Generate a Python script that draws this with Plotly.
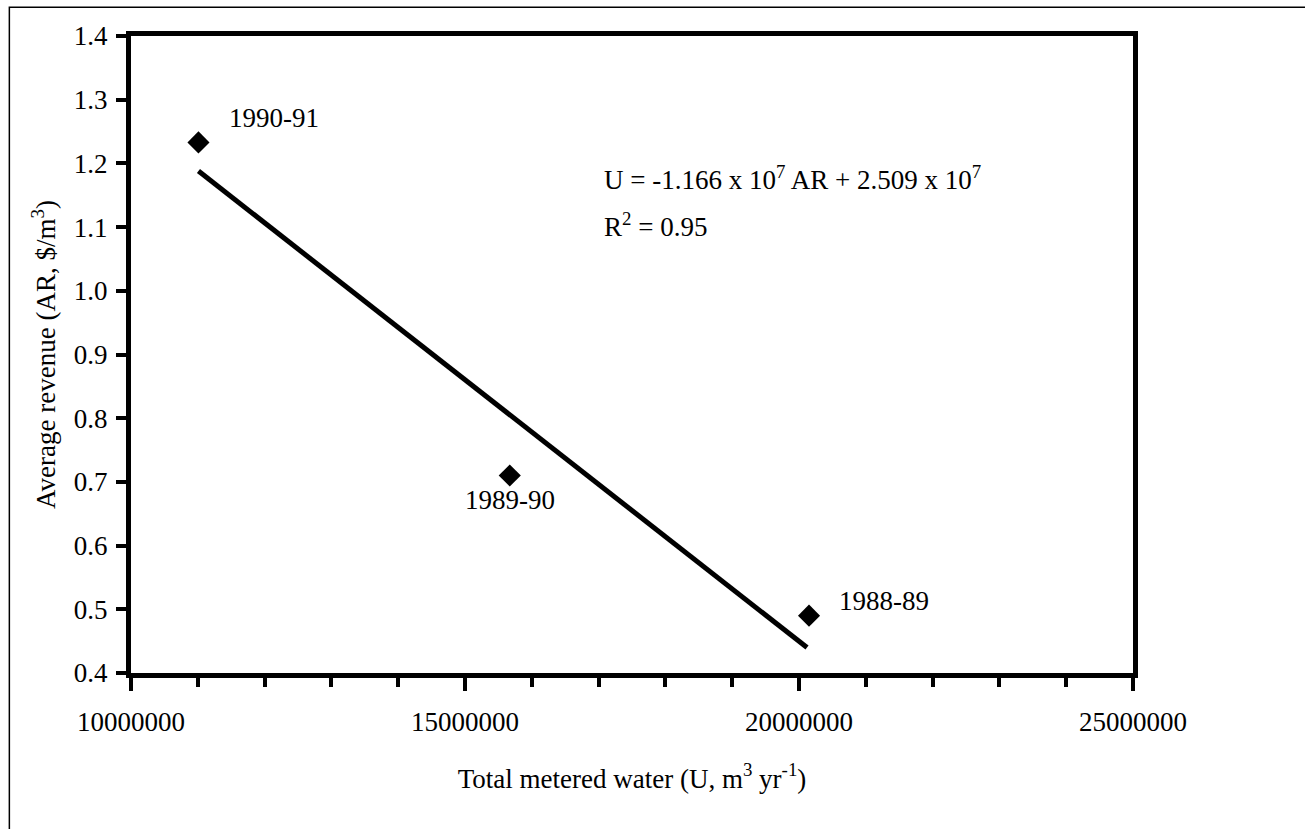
import plotly.graph_objects as go

# Data
years = ["1990-91", "1989-90", "1988-89"]
metered_water = [11010000, 15670000, 20150000]   # U, m3/yr
avg_revenue = [1.233, 0.710, 0.490]              # AR, $/m3

trend_x = [11010000, 20120000]
trend_y = [1.188, 0.440]

x_ticks = [10000000, 15000000, 20000000, 25000000]
y_ticks = [0.4, 0.5, 0.6, 0.7, 0.8, 0.9, 1.0, 1.1, 1.2, 1.3, 1.4]

FONT = "Liberation Serif, Times New Roman, serif"
FS = 27

fig = go.Figure()
fig.add_trace(go.Scatter(
    x=trend_x, y=trend_y, mode="lines",
    line=dict(color="black", width=5), showlegend=False, hoverinfo="skip"))
fig.add_trace(go.Scatter(
    x=metered_water, y=avg_revenue, mode="markers",
    marker=dict(symbol="diamond", size=17, color="black"),
    showlegend=False))

# point labels
offsets = {"1990-91": ("left", 29, 24), "1989-90": ("center", 0, -24), "1988-89": ("left", 28, 15)}
for yr, xv, yv in zip(years, metered_water, avg_revenue):
    anc, xs, ys = offsets[yr]
    fig.add_annotation(x=xv, y=yv, text=yr, showarrow=False, xanchor=anc, yanchor="middle",
                       xshift=xs, yshift=ys, font=dict(family=FONT, size=FS, color="black"))

fig.add_annotation(xref="paper", yref="paper", x=0.470, y=0.777, xanchor="left", yanchor="middle",
                   text="U = -1.166 x 10<sup>7</sup> AR + 2.509 x 10<sup>7</sup>", showarrow=False,
                   font=dict(family=FONT, size=FS, color="black"))
fig.add_annotation(xref="paper", yref="paper", x=0.470, y=0.703, xanchor="left", yanchor="middle",
                   text="R<sup>2</sup> = 0.95", showarrow=False,
                   font=dict(family=FONT, size=FS, color="black"))

# outer frame
fig.add_shape(type="rect", xref="paper", yref="paper", x0=-0.1214, x1=1.175, y0=-0.25, y1=1.045,
              line=dict(color="black", width=1.5), layer="below")

fig.update_xaxes(
    range=[10000000, 25000000], tickvals=x_ticks, tickformat="d",
    showline=True, linewidth=5, linecolor="black", mirror=True,
    ticks="outside", ticklen=13, tickwidth=4, tickcolor="black",
    minor=dict(dtick=1000000, ticks="outside", ticklen=9, tickwidth=4, tickcolor="black", showgrid=False),
    showgrid=False, zeroline=False,
    tickfont=dict(family=FONT, size=FS, color="black"), ticklabelstandoff=8,
    title=dict(text="Total metered water (U, m<sup>3</sup> yr<sup>-1</sup>)",
               font=dict(family=FONT, size=FS, color="black"), standoff=34))
fig.update_yaxes(
    range=[0.4, 1.4], tickvals=y_ticks, tickformat=".1f",
    showline=True, linewidth=5, linecolor="black", mirror=True,
    ticks="outside", ticklen=10, tickwidth=4, tickcolor="black",
    showgrid=False, zeroline=False,
    tickfont=dict(family=FONT, size=FS, color="black"), ticklabelstandoff=3,
    title=dict(text="Average revenue (AR, $/m<sup>3</sup>)",
               font=dict(family=FONT, size=FS, color="black"), standoff=12))

fig.update_layout(
    width=1305, height=829,
    margin=dict(l=131, r=172, t=36, b=156, autoexpand=False),
    paper_bgcolor="white", plot_bgcolor="white",
    font=dict(family=FONT, size=FS, color="black"))

fig.write_html("out.html", config={"displayModeBar": False},
               post_script="document.body.style.margin='0';document.body.style.overflow='hidden';")
